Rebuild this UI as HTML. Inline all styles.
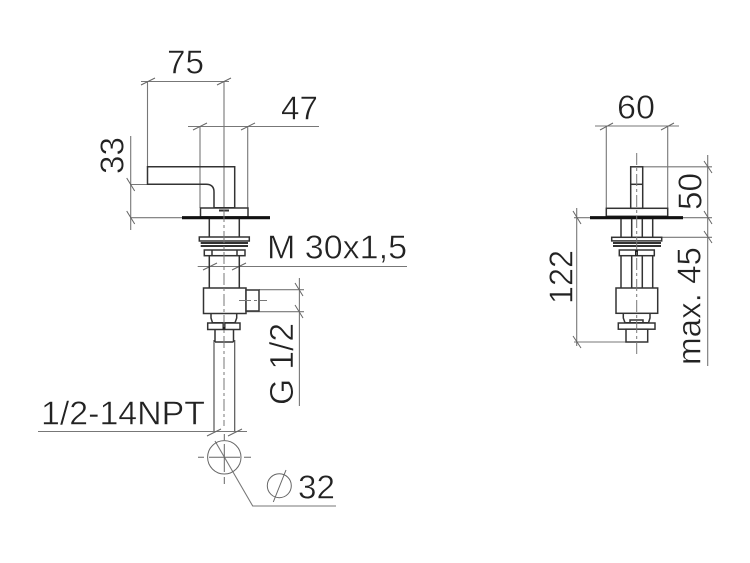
<!DOCTYPE html>
<html>
<head>
<meta charset="utf-8">
<style>
html,body{margin:0;padding:0;background:#fff;width:750px;height:563px;overflow:hidden}
svg{display:block}
text{font-family:"Liberation Sans",sans-serif;font-size:33.5px;fill:#222;stroke:#fff;stroke-width:.5px}
.d{fill:none;stroke:#777;stroke-width:1.1}
.p{fill:none;stroke:#555;stroke-width:1.2}
.t{fill:none;stroke:#666;stroke-width:1}
.o{fill:none;stroke:#333;stroke-width:1.5}
.w{fill:#fff;stroke:#333;stroke-width:1.5}
.c{fill:none;stroke:#777;stroke-width:1;stroke-dasharray:12 3 3 3}
</style>
</head>
<body>
<svg width="750" height="563" viewBox="0 0 750 563" xmlns="http://www.w3.org/2000/svg">
<!-- Left view dimension lines -->
<path class="d" d="M141 81.5H229M147.5 81.5V167M224 81.5V208
M188 126.5H319M200 126.5V208M247.7 126.5V208
M130.7 136V230M130 184.5H148M130 217.7H182
M197.7 266.5H407
M259 289.7H304M246 311.7H304M299.4 278V406
M38 431.5H247
M215 441L252.7 506H336"/>
<path class="p" d="M214 340V431M234.7 340V431"/>
<!-- Ticks -->
<path class="t" d="M141 85L155 78M217 85L231 78
M193 130L207 123M241 130L255 123
M126.7 178L134.7 191M126.7 211L134.7 224
M203 270L217 263M232 270L246 263
M295 283L303 296M295 305L303 318
M207 436L221 429M228 436L242 429"/>
<!-- Handle -->
<path class="o" d="M147.5 184.3V166.8H234.7V207.8H214V192Q214 184.3 206 184.3H147.5Z"/>
<rect class="o" x="200.5" y="208" width="47.5" height="9"/>
<path d="M219 210.5H229" stroke="#333" stroke-width="2"/>
<path d="M182 217.7H270" stroke="#111" stroke-width="3.2"/>
<!-- Left body -->
<path class="o" d="M209.3 219V237M239.3 219V237"/>
<rect class="w" x="199.3" y="237" width="50" height="4"/>
<path d="M200.7 243H248M200.7 246H248" stroke="#333" stroke-width="2"/>
<rect class="w" x="204.3" y="250" width="40.7" height="5.7"/>
<path class="o" d="M212 250V255.7M237 250V255.7M209.3 256V288M239.3 256V288"/>
<rect class="w" x="203.5" y="288" width="42.5" height="25.5"/>
<rect class="w" x="246" y="290" width="13" height="21"/>
<path class="o" d="M211 313.5V318L212.5 322.7H235L236.7 318V313.5"/>
<rect class="w" x="207.7" y="323" width="32.3" height="6.5"/>
<path d="M224 323V329.5" stroke="#222" stroke-width="3"/>
<path class="o" d="M215 329.5V342M233.5 329.5V342M215 342H233.5"/>
<path class="c" d="M224 210V426"/>
<path class="c" d="M239 300.5H267"/>
<!-- Circle section -->
<circle cx="224.3" cy="457.3" r="16.7" fill="none" stroke="#666" stroke-width="1"/>
<path class="t" d="M198 457.3H204M209 457.3H240M244 457.3H251M224.3 434V440M224.3 444V472M224.3 477V484"/>
<!-- Phi -->
<circle cx="279.3" cy="485.7" r="12" fill="none" stroke="#666" stroke-width="1"/>
<path class="t" d="M286 470L273.3 502"/>
<!-- Right view dimension lines -->
<path class="d" d="M595 126H679M606.3 126V208M667.7 126V208
M642 166.8H712M707.7 155V366
M683 217.7H712M661 237.3H712
M576.7 208V346M574 217.7H590M574 342H627"/>
<path class="t" d="M600 130L613 123M661 130L674 123
M704 161L712 173M704 211L712 224M704 231L712 243
M573 211L581 224M573 336L581 348"/>
<!-- Right body -->
<rect class="o" x="630.7" y="166.8" width="12" height="41.5"/>
<path class="o" d="M630.7 184.3H642.7"/>
<rect class="o" x="606.3" y="208.3" width="61.4" height="8"/>
<path d="M590 217.7H683" stroke="#111" stroke-width="3.2"/>
<path class="o" d="M621 219V237M652.7 219V237M631.7 219V237M642.3 219V237"/>
<rect class="w" x="611.7" y="237.3" width="50" height="3.6"/>
<path d="M613 243H661M613 246H661" stroke="#333" stroke-width="2"/>
<rect class="w" x="619.3" y="250" width="35" height="5.7"/>
<path d="M636.5 250V255.7" stroke="#222" stroke-width="3"/>
<path class="o" d="M621 256V288M652.7 256V288M631.7 256V288M642.3 256V288"/>
<rect class="w" x="616" y="288" width="41.7" height="25.3"/>
<path class="o" d="M623.3 313.5V318L625 322.7H648.5L650 318V313.5"/>
<rect class="w" x="618.3" y="323" width="36.7" height="6.2"/>
<rect class="w" x="626" y="329.2" width="21.7" height="12.8"/>
<path class="o" d="M630 323V320H643V323"/>
<path class="c" d="M636.7 153V354"/>
<!-- Labels -->
<text x="167" y="73.5" textLength="37" lengthAdjust="spacingAndGlyphs">75</text>
<text x="281" y="119.5" textLength="37" lengthAdjust="spacingAndGlyphs">47</text>
<text x="617" y="118.5" textLength="38" lengthAdjust="spacingAndGlyphs">60</text>
<text x="267" y="258.5" textLength="140" lengthAdjust="spacingAndGlyphs">M 30x1,5</text>
<text x="41" y="424.5" textLength="164" lengthAdjust="spacingAndGlyphs">1/2-14NPT</text>
<text x="298" y="498.5" textLength="37" lengthAdjust="spacingAndGlyphs">32</text>
<text transform="translate(123.5 174) rotate(-90)" textLength="37" lengthAdjust="spacingAndGlyphs">33</text>
<text transform="translate(293 405) rotate(-90)" textLength="82" lengthAdjust="spacingAndGlyphs">G 1/2</text>
<text transform="translate(701.5 210) rotate(-90)" textLength="37" lengthAdjust="spacingAndGlyphs">50</text>
<text transform="translate(572.5 304) rotate(-90)" textLength="54" lengthAdjust="spacingAndGlyphs">122</text>
<text transform="translate(700.5 365) rotate(-90)" textLength="118" lengthAdjust="spacingAndGlyphs">max. 45</text>
</svg>
</body>
</html>
